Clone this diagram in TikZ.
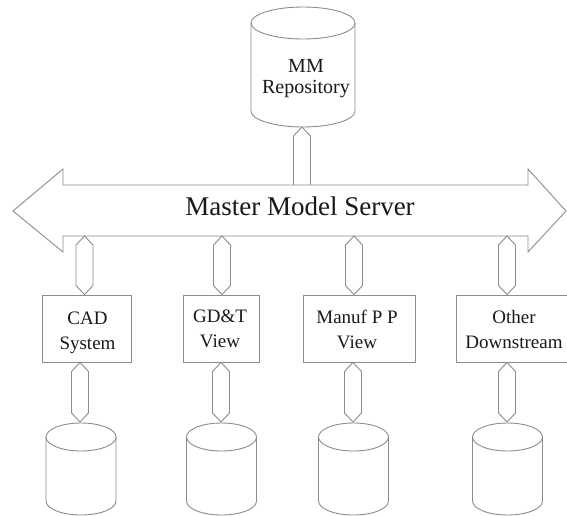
\documentclass[tikz,border=0pt]{standalone}
\usepackage{fontspec}
\setmainfont{Liberation Serif}
\usetikzlibrary{calc}

% vertical two-way link: pointed at both ends, from (#1) down to (#2)
\newcommand{\linkbar}[2]{%
  \draw[linkbar] (#1) -- ++(8.5,9) -- ($(#2)+(8.5,-9)$) -- (#2)
    -- ++(-8.5,-9) -- ($(#1)+(-8.5,9)$) -- cycle;}

% storage drum: centre x, top y, x radius, y radius, total height
\newcommand{\drum}[5]{%
  \draw[outline, fill=white] (#1-#3,#2+#4) -- (#1-#3,#2+#5-#4)
    arc[start angle=180, end angle=360, x radius=#3 pt, y radius=#4 pt]
    -- (#1+#3,#2+#4);
  \draw[outline] (#1,#2+#4) ellipse [x radius=#3 pt, y radius=#4 pt];}

\begin{document}
\begin{tikzpicture}[x=1pt, y=-1pt,
  outline/.style={draw=black!45, line width=0.9pt, line join=miter},
  linkbar/.style={outline, fill=white},
  unitbox/.style={outline, fill=white, minimum height=67pt, inner sep=0pt},
  caption/.style={font=\fontsize{19}{25}\selectfont, align=center, text=black!90, inner sep=0pt}
]
\useasboundingbox (0,0) rectangle (567,516);

% repository drum at the top
\drum{303}{7}{52}{16}{120}
\node[font=\fontsize{20}{21}\selectfont, align=center, text=black!90, inner sep=0pt]
  (repo) at (306,79) {MM\\Repository};
\coordinate (repobot) at (302,127);
\coordinate (bustop) at (302,196);
\linkbar{repobot}{bustop}

% the server bus: a wide two-headed arrow
\draw[outline, fill=white] (13,211) -- (63,169) -- (63,185) -- (528,185) -- (528,169)
  -- (566,211) -- (528,252) -- (528,236) -- (63,236) -- (63,252) -- cycle;
\node[anchor=base, font=\fontsize{27}{30}\selectfont, text=black!90, inner sep=0pt]
  (server) at (300,215) {Master Model Server};

% client units
\node[unitbox, minimum width=89pt]  (cad)   at (86.5,328.5) {};
\node[unitbox, minimum width=76pt]  (gdt)   at (221,328.5)  {};
\node[unitbox, minimum width=112pt] (manuf) at (359,328.5)  {};
\node[unitbox, minimum width=112pt] (other) at (512,328.5)  {};

\node[caption] (cadtxt)   at (87.5,333) {CAD\\System};
\node[caption] (gdttxt)   at (220,328.5) {GD\&T\\View};
\node[caption] (manuftxt) at (357,329)  {Manuf P P\\View};
\node[caption] (othertxt) at (514,329)  {Other\\Downstream};

% links between the bus and the units
\coordinate (busA) at (84.5,236);
\coordinate (busB) at (222,236);
\coordinate (busC) at (354,236);
\coordinate (busD) at (507,236);
\linkbar{busA}{busA |- cad.north}
\linkbar{busB}{busB |- gdt.north}
\linkbar{busC}{busC |- manuf.north}
\linkbar{busD}{busD |- other.north}

% local stores under each unit
\drum{81}{423}{35}{14}{92}
\drum{221.5}{423}{35}{14}{92}
\drum{353.5}{423}{35}{14}{92}
\drum{507.5}{423}{35}{14}{92}
\coordinate (dbA) at (80,422);
\coordinate (dbB) at (221,422);
\coordinate (dbC) at (353,422);
\coordinate (dbD) at (507,422);
\linkbar{dbA |- cad.south}{dbA}
\linkbar{dbB |- gdt.south}{dbB}
\linkbar{dbC |- manuf.south}{dbC}
\linkbar{dbD |- other.south}{dbD}
\end{tikzpicture}
\end{document}
